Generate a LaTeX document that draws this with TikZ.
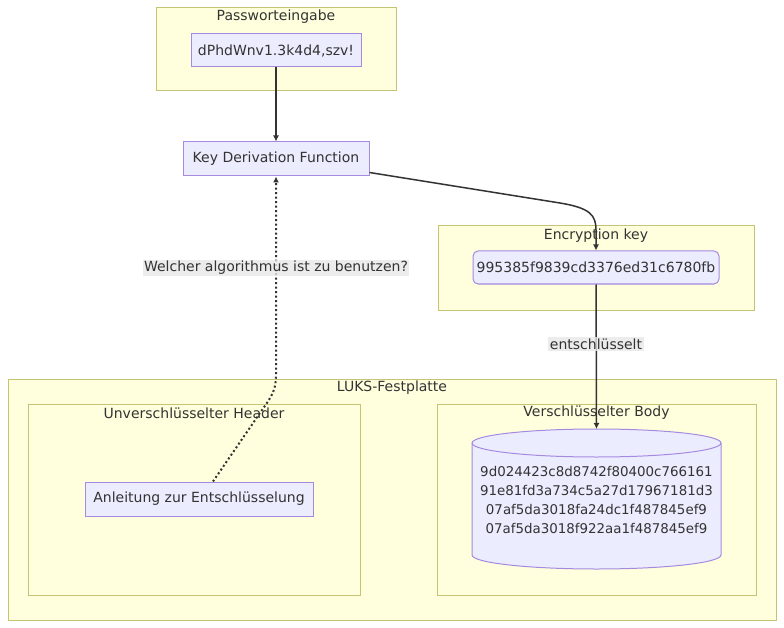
\documentclass[tikz,border=0pt]{standalone}
\usepackage{fontspec}
\setmainfont{DejaVu Sans}
\usepackage{tikz}
\usetikzlibrary{arrows.meta, calc}
\usepackage{xcolor}
\definecolor{clfill}{HTML}{FFFFDE}
\definecolor{cldraw}{HTML}{C4C474}
\definecolor{ndfill}{HTML}{ECECFF}
\definecolor{nddraw}{HTML}{A58AE0}
\definecolor{txt}{HTML}{333333}
\definecolor{lblbg}{HTML}{E8E8E8}

\begin{document}
\begin{tikzpicture}[x=1pt, y=-1pt,
        every node/.style={font=\fontsize{14}{19}\selectfont, text=txt},
        cluster/.style={draw=cldraw, fill=clfill, line width=1pt, inner sep=0pt},
        box/.style={draw=nddraw, fill=ndfill, line width=1pt, inner sep=0pt},
        edge/.style={draw=txt, line width=1.5pt, -{Latex[length=6pt, width=6pt]}},
        lbl/.style={fill=lblbg, fill opacity=0.8, text opacity=1, inner sep=1.5pt}]
        \useasboundingbox[fill=white] (0,0) rectangle (784,628);
        % clusters
        \node[cluster, minimum width=240pt, minimum height=83pt] (pwbox) at (276,49.5) {};
        \node (pwlabel) at (276,17) {Passworteingabe};
        \node[cluster, minimum width=316pt, minimum height=84pt] (keybox) at (596,268) {};
        \node (keylabel) at (596,236) {Encryption key};
        \node[cluster, minimum width=768pt, minimum height=241pt] (disk) at (392,499.5) {};
        \node (disklabel) at (392,388) {LUKS-Festplatte};
        \node[cluster, minimum width=332pt, minimum height=191pt] (header) at (194,499.5) {};
        \node (headerlabel) at (194,413) {Unverschlüsselter Header};
        \node[cluster, minimum width=319pt, minimum height=191pt] (bodybox) at (596.5,499.5) {};
        \node (bodylabel) at (596.5,413) {Verschlüsselter Body};
        % nodes
        \node[box, minimum width=170pt, minimum height=33pt] (pw) at (276,50.5) {dPhdWnv1.3k4d4,szv!};
        \node[box, minimum width=186pt, minimum height=34pt] (kdf) at (276,159) {Key Derivation Function};
        \node[box, rounded corners=5pt, minimum width=246pt, minimum height=33pt] (key) at (596,267.5) {995385f9839cd3376ed31c6780fb};
        \node[box, minimum width=228pt, minimum height=34pt] (guide) at (199,499) {Anleitung zur Entschlüsselung};
        % cylinder
        \filldraw[draw=nddraw, fill=ndfill, line width=1pt] (472,443) -- (472,555)
            arc[start angle=180, end angle=360, x radius=124.5pt, y radius=14pt] -- (721,443)
            arc[start angle=0, end angle=180, x radius=124.5pt, y radius=14pt] -- cycle;
        \draw[draw=nddraw, line width=1pt] (472,443) arc[start angle=180, end angle=360, x radius=124.5pt, y radius=14pt];
        \coordinate (bodytop) at (596.5,429);
        \node[align=center, font=\fontsize{13.4}{19}\selectfont] (body) at (596.5,500) {9d024423c8d8742f80400c766161\\91e81fd3a734c5a27d17967181d3\\07af5da3018fa24dc1f487845ef9\\07af5da3018f922aa1f487845ef9};
        % edges
        \draw[edge] (pw) -- (kdf);
        \draw[edge] ($(kdf.south east)+(0,-4)$) -- (560,203) .. controls (590,208) and (596,215) .. (596,230) -- (key.north);
        \draw[edge] (key) -- (bodytop);
        \node[lbl] (decrypt) at (596,344) {entschlüsselt};
        \draw[edge, line width=2pt, dash pattern=on 2pt off 2.5pt] ($(guide.north)+(14,0)$) -- (262,410) .. controls (272,396) and (276,390) .. (276,375) -- (kdf.south);
        \node[lbl] (question) at (276,268) {Welcher algorithmus ist zu benutzen?};
    \end{tikzpicture}
\end{document}
